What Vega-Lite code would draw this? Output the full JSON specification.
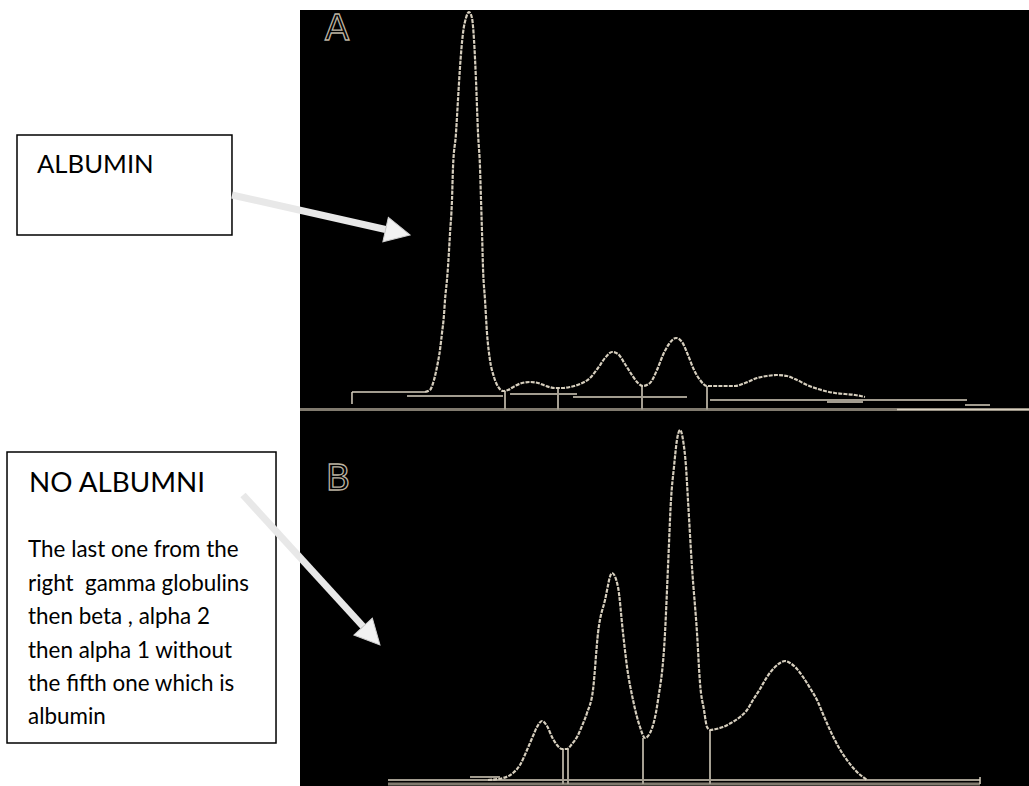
{
  "$schema": "https://vega.github.io/schema/vega-lite/v6.json",
  "width": 1029,
  "height": 786,
  "padding": 0,
  "autosize": "none",
  "background": "white",
  "config": {"view": {"stroke": null}},
  "datasets": {
    "panel": [{"x1": 0, "x2": 100, "y1": 100.53, "y2": -103.68}],
    "traceA": [
      {"x": 17.15, "y": 0}, {"x": 17.83, "y": 0.53}, {"x": 18.38, "y": 3.16}, {"x": 18.79, "y": 6.58},
      {"x": 19.2, "y": 11.05}, {"x": 19.48, "y": 15.53}, {"x": 19.75, "y": 20.26}, {"x": 19.89, "y": 24.21},
      {"x": 20.16, "y": 29.47}, {"x": 20.3, "y": 32.89}, {"x": 20.58, "y": 41.84}, {"x": 20.85, "y": 50.53},
      {"x": 20.99, "y": 59.21}, {"x": 21.4, "y": 68.16}, {"x": 21.67, "y": 76.84}, {"x": 21.95, "y": 85.53},
      {"x": 22.36, "y": 94.47}, {"x": 22.77, "y": 98.42}, {"x": 23.18, "y": 100}, {"x": 23.59, "y": 98.42},
      {"x": 23.87, "y": 92.63}, {"x": 24.14, "y": 82.11}, {"x": 24.42, "y": 68.16}, {"x": 24.69, "y": 59.21},
      {"x": 24.83, "y": 50.53}, {"x": 24.97, "y": 41.84}, {"x": 25.1, "y": 32.89}, {"x": 25.38, "y": 24.21},
      {"x": 25.65, "y": 15.53}, {"x": 26.06, "y": 8.42}, {"x": 26.61, "y": 3.95}, {"x": 27.3, "y": 1.05},
      {"x": 27.85, "y": 0.26}, {"x": 28.53, "y": 0.53}, {"x": 29.49, "y": 1.58}, {"x": 30.45, "y": 2.37},
      {"x": 31.55, "y": 2.63}, {"x": 32.65, "y": 2.37}, {"x": 33.74, "y": 1.58}, {"x": 34.98, "y": 1.05},
      {"x": 35.94, "y": 1.05}, {"x": 37.04, "y": 1.32}, {"x": 38.41, "y": 2.11}, {"x": 39.78, "y": 3.68},
      {"x": 40.88, "y": 6.32}, {"x": 41.84, "y": 8.95}, {"x": 42.8, "y": 10.53}, {"x": 43.62, "y": 10.0},
      {"x": 44.58, "y": 7.37}, {"x": 45.54, "y": 4.47}, {"x": 46.36, "y": 2.37}, {"x": 47.05, "y": 1.58},
      {"x": 48.01, "y": 2.37}, {"x": 48.97, "y": 5.79}, {"x": 49.79, "y": 9.74}, {"x": 50.62, "y": 12.63},
      {"x": 51.58, "y": 14.21}, {"x": 52.4, "y": 13.16}, {"x": 53.22, "y": 9.74}, {"x": 54.05, "y": 5.79},
      {"x": 54.87, "y": 3.16}, {"x": 55.83, "y": 1.58}, {"x": 56.93, "y": 1.58}, {"x": 58.3, "y": 1.58},
      {"x": 59.67, "y": 1.58}, {"x": 61.04, "y": 2.37}, {"x": 62.69, "y": 3.68}, {"x": 64.06, "y": 4.21},
      {"x": 65.43, "y": 4.47}, {"x": 66.8, "y": 4.21}, {"x": 68.18, "y": 3.16}, {"x": 69.55, "y": 1.84},
      {"x": 70.64, "y": 1.05}, {"x": 72.02, "y": 0.26}, {"x": 73.39, "y": -0.26}, {"x": 74.76, "y": -0.53},
      {"x": 76.13, "y": -0.79}, {"x": 77.5, "y": -1.32}
    ],
    "traceB": [
      {"x": 25.79, "y": 0}, {"x": 27.85, "y": 0.57}, {"x": 29.22, "y": 2.0}, {"x": 30.18, "y": 4.29},
      {"x": 31.14, "y": 8.57}, {"x": 31.96, "y": 12.57}, {"x": 32.51, "y": 15.14}, {"x": 33.2, "y": 16.86},
      {"x": 33.88, "y": 15.43}, {"x": 34.57, "y": 12.29}, {"x": 35.25, "y": 10.0}, {"x": 35.94, "y": 8.86},
      {"x": 36.63, "y": 8.86}, {"x": 37.31, "y": 10.29}, {"x": 38.0, "y": 12.29}, {"x": 38.68, "y": 15.43},
      {"x": 39.37, "y": 19.14}, {"x": 40.19, "y": 25.71}, {"x": 40.88, "y": 42.0}, {"x": 41.84, "y": 51.43},
      {"x": 42.8, "y": 59.14}, {"x": 43.62, "y": 55.14}, {"x": 44.31, "y": 42.0}, {"x": 44.86, "y": 32.29},
      {"x": 45.68, "y": 22.86}, {"x": 46.64, "y": 15.14}, {"x": 47.33, "y": 12.0}, {"x": 48.01, "y": 13.43},
      {"x": 49.11, "y": 22.86}, {"x": 50.07, "y": 42.0}, {"x": 50.48, "y": 60.86}, {"x": 50.89, "y": 80.0},
      {"x": 51.3, "y": 89.43}, {"x": 51.71, "y": 97.14}, {"x": 52.13, "y": 100}, {"x": 52.54, "y": 97.14},
      {"x": 52.95, "y": 89.43}, {"x": 53.22, "y": 80.0}, {"x": 53.77, "y": 60.86}, {"x": 54.46, "y": 42.0},
      {"x": 54.87, "y": 27.71}, {"x": 55.42, "y": 20.0}, {"x": 55.83, "y": 15.14}, {"x": 56.24, "y": 14.29},
      {"x": 57.06, "y": 14.57}, {"x": 58.02, "y": 15.14}, {"x": 59.12, "y": 16.29}, {"x": 60.36, "y": 18.0},
      {"x": 61.32, "y": 20.0}, {"x": 62.14, "y": 22.86}, {"x": 63.1, "y": 26.0}, {"x": 64.06, "y": 29.43},
      {"x": 65.02, "y": 32.0}, {"x": 65.84, "y": 33.43}, {"x": 66.53, "y": 34.0}, {"x": 67.22, "y": 33.43},
      {"x": 68.18, "y": 31.71}, {"x": 69.0, "y": 29.43}, {"x": 69.96, "y": 26.29}, {"x": 70.92, "y": 22.86},
      {"x": 71.74, "y": 18.86}, {"x": 72.7, "y": 14.29}, {"x": 73.8, "y": 9.71}, {"x": 75.03, "y": 5.71},
      {"x": 76.27, "y": 2.57}, {"x": 77.78, "y": 0}
    ],
    "segA": [
      {"x1": 0, "x2": 100, "y1": -4.61, "y2": -4.61, "kind": "base"},
      {"x1": 81.89, "x2": 100, "y1": -4.61, "y2": -4.61, "kind": "scan"},
      {"x1": 7.13, "x2": 17.15, "y1": 0, "y2": 0, "kind": "scan"},
      {"x1": 7.13, "x2": 7.13, "y1": 0, "y2": -3.16, "kind": "scan"},
      {"x1": 14.68, "x2": 27.85, "y1": -1.05, "y2": -1.05, "kind": "scan"},
      {"x1": 28.81, "x2": 38.0, "y1": -0.53, "y2": -0.53, "kind": "scan"},
      {"x1": 37.45, "x2": 53.09, "y1": -1.32, "y2": -1.32, "kind": "scan"},
      {"x1": 56.24, "x2": 91.5, "y1": -2.11, "y2": -2.11, "kind": "scan"},
      {"x1": 72.29, "x2": 77.23, "y1": -2.63, "y2": -2.63, "kind": "scan"},
      {"x1": 91.22, "x2": 94.65, "y1": -3.42, "y2": -3.42, "kind": "scan"},
      {"x1": 28.12, "x2": 28.12, "y1": 0.26, "y2": -4.61, "kind": "marker"},
      {"x1": 35.39, "x2": 35.39, "y1": 1.05, "y2": -4.61, "kind": "marker"},
      {"x1": 46.91, "x2": 46.91, "y1": 1.58, "y2": -4.61, "kind": "marker"},
      {"x1": 55.83, "x2": 55.83, "y1": 1.58, "y2": -4.61, "kind": "marker"}
    ],
    "segB": [
      {"x1": 12.07, "x2": 93.28, "y1": -1.14, "y2": -1.14, "kind": "base"},
      {"x1": 12.07, "x2": 93.28, "y1": 0, "y2": 0, "kind": "scan"},
      {"x1": 93.28, "x2": 93.28, "y1": 0.86, "y2": -1.14, "kind": "scan"},
      {"x1": 23.32, "x2": 27.43, "y1": 0.86, "y2": 0.86, "kind": "scan"},
      {"x1": 36.08, "x2": 36.08, "y1": 8.86, "y2": -1.14, "kind": "marker"},
      {"x1": 36.76, "x2": 36.76, "y1": 8.86, "y2": -1.14, "kind": "marker"},
      {"x1": 47.05, "x2": 47.05, "y1": 12.0, "y2": -1.14, "kind": "marker"},
      {"x1": 56.24, "x2": 56.24, "y1": 14.29, "y2": -1.14, "kind": "marker"}
    ],
    "boxA": [{"x1": -38.82, "x2": -9.33, "y1": 67.63, "y2": 41.32}],
    "boxB": [{"x1": -40.19, "x2": -3.29, "y1": 93.71, "y2": 10.57}],
    "textA": [{"x": -36.08, "y": 57.63, "text": "ALBUMIN"}],
    "titleB": [{"x": -37.17, "y": 82.29, "text": "NO ALBUMNI"}],
    "bodyB": [
      {"x": -37.3, "y": 63.71, "text": "The last one from the"},
      {"x": -37.3, "y": 54.14, "text": "right\u00a0 gamma globulins"},
      {"x": -37.3, "y": 44.57, "text": "then beta , alpha 2"},
      {"x": -37.3, "y": 35.0, "text": "then alpha 1 without"},
      {"x": -37.3, "y": 25.43, "text": "the fifth one which is"},
      {"x": -37.3, "y": 15.86, "text": "albumin"}
    ],
    "arrowA": [{"x1": -9.33, "y1": 51.84, "x2": 11.74, "y2": 42.76, "tx": 15.09, "ty": 41.32}],
    "arrowB": [{"x1": -7.82, "y1": 81.43, "x2": 8.66, "y2": 43.86, "tx": 10.97, "ty": 38.57}],
    "letterA": [{"x": 5.08, "y": 92.63, "text": "A"}],
    "letterB": [{"x": 5.21, "y": 82.86, "text": "B"}]
  },
  "layer": [
    {
      "layer": [
        {
          "data": {"name": "panel"},
          "mark": {"type": "rect", "fill": "#000000"},
          "encoding": {
            "x": {"field": "x1", "type": "quantitative", "axis": null, "scale": {"domain": [0, 100], "range": [300, 1029], "nice": false, "zero": false}},
            "x2": {"field": "x2"},
            "y": {"field": "y1", "type": "quantitative", "axis": null, "scale": {"domain": [0, 100], "range": [392, 12], "nice": false, "zero": false}},
            "y2": {"field": "y2"}
          }
        },
        {
          "data": {"name": "boxA"},
          "mark": {"type": "rect", "fill": "#ffffff", "stroke": "#000000", "strokeWidth": 1.5},
          "encoding": {
            "x": {"field": "x1", "type": "quantitative"},
            "x2": {"field": "x2"},
            "y": {"field": "y1", "type": "quantitative"},
            "y2": {"field": "y2"}
          }
        },
        {
          "data": {"name": "textA"},
          "mark": {"type": "text", "align": "left", "baseline": "alphabetic", "font": "Lato", "fontSize": 25.7, "color": "#000000"},
          "encoding": {
            "x": {"field": "x", "type": "quantitative"},
            "y": {"field": "y", "type": "quantitative"},
            "text": {"field": "text"}
          }
        },
        {
          "data": {"name": "arrowA"},
          "mark": {"type": "rule", "color": "#e8e8e8", "strokeWidth": 7, "strokeCap": "butt"},
          "encoding": {
            "x": {"field": "x1", "type": "quantitative"},
            "x2": {"field": "x2"},
            "y": {"field": "y1", "type": "quantitative"},
            "y2": {"field": "y2"}
          }
        },
        {
          "data": {"name": "arrowA"},
          "mark": {"type": "point", "shape": "M0,0L-1,-0.5L-1,0.5Z", "size": 2500, "filled": true, "fill": "#f2f2f2", "stroke": "#cfcfcf", "strokeWidth": 1, "opacity": 1, "angle": 12.66},
          "encoding": {
            "x": {"field": "tx", "type": "quantitative"},
            "y": {"field": "ty", "type": "quantitative"}
          }
        },
        {
          "data": {"name": "segA"},
          "transform": [{"filter": "datum.kind === 'base'"}],
          "mark": {"type": "rule", "color": "#807a6e", "strokeWidth": 3},
          "encoding": {
            "x": {"field": "x1", "type": "quantitative"},
            "x2": {"field": "x2"},
            "y": {"field": "y1", "type": "quantitative"},
            "y2": {"field": "y2"}
          }
        },
        {
          "data": {"name": "segA"},
          "transform": [{"filter": "datum.kind === 'scan'"}],
          "mark": {"type": "rule", "color": "#d8d0bf", "strokeWidth": 1.5},
          "encoding": {
            "x": {"field": "x1", "type": "quantitative"},
            "x2": {"field": "x2"},
            "y": {"field": "y1", "type": "quantitative"},
            "y2": {"field": "y2"}
          }
        },
        {
          "data": {"name": "segA"},
          "transform": [{"filter": "datum.kind === 'marker'"}],
          "mark": {"type": "rule", "color": "#a59f92", "strokeWidth": 2},
          "encoding": {
            "x": {"field": "x1", "type": "quantitative"},
            "x2": {"field": "x2"},
            "y": {"field": "y1", "type": "quantitative"},
            "y2": {"field": "y2"}
          }
        },
        {
          "data": {"name": "traceA"},
          "mark": {"type": "line", "color": "#d6cebd", "strokeWidth": 2.2, "interpolate": "monotone", "strokeDash": [4, 1.2]},
          "encoding": {
            "x": {"field": "x", "type": "quantitative"},
            "y": {"field": "y", "type": "quantitative"}
          }
        },
        {
          "data": {"name": "letterA"},
          "mark": {"type": "text", "align": "center", "baseline": "alphabetic", "font": "DejaVu Sans", "fontSize": 36, "fill": "#000000", "stroke": "#bcb3a2", "strokeWidth": 1.3},
          "encoding": {
            "x": {"field": "x", "type": "quantitative"},
            "y": {"field": "y", "type": "quantitative"},
            "text": {"field": "text"}
          }
        }
      ]
    },
    {
      "layer": [
        {
          "data": {"name": "boxB"},
          "mark": {"type": "rect", "fill": "#ffffff", "stroke": "#000000", "strokeWidth": 1.5},
          "encoding": {
            "x": {"field": "x1", "type": "quantitative", "axis": null, "scale": {"domain": [0, 100], "range": [300, 1029], "nice": false, "zero": false}},
            "x2": {"field": "x2"},
            "y": {"field": "y1", "type": "quantitative", "axis": null, "scale": {"domain": [0, 100], "range": [780, 430], "nice": false, "zero": false}},
            "y2": {"field": "y2"}
          }
        },
        {
          "data": {"name": "titleB"},
          "mark": {"type": "text", "align": "left", "baseline": "alphabetic", "font": "Lato", "fontSize": 27.8, "color": "#000000"},
          "encoding": {
            "x": {"field": "x", "type": "quantitative"},
            "y": {"field": "y", "type": "quantitative"},
            "text": {"field": "text"}
          }
        },
        {
          "data": {"name": "bodyB"},
          "mark": {"type": "text", "align": "left", "baseline": "alphabetic", "font": "Lato", "fontSize": 22.4, "color": "#000000"},
          "encoding": {
            "x": {"field": "x", "type": "quantitative"},
            "y": {"field": "y", "type": "quantitative"},
            "text": {"field": "text"}
          }
        },
        {
          "data": {"name": "arrowB"},
          "mark": {"type": "rule", "color": "#e8e8e8", "strokeWidth": 7, "strokeCap": "butt"},
          "encoding": {
            "x": {"field": "x1", "type": "quantitative"},
            "x2": {"field": "x2"},
            "y": {"field": "y1", "type": "quantitative"},
            "y2": {"field": "y2"}
          }
        },
        {
          "data": {"name": "arrowB"},
          "mark": {"type": "point", "shape": "M0,0L-1,-0.5L-1,0.5Z", "size": 2500, "filled": true, "fill": "#f2f2f2", "stroke": "#cfcfcf", "strokeWidth": 1, "opacity": 1, "angle": 47.6},
          "encoding": {
            "x": {"field": "tx", "type": "quantitative"},
            "y": {"field": "ty", "type": "quantitative"}
          }
        },
        {
          "data": {"name": "segB"},
          "transform": [{"filter": "datum.kind === 'base'"}],
          "mark": {"type": "rule", "color": "#807a6e", "strokeWidth": 3},
          "encoding": {
            "x": {"field": "x1", "type": "quantitative"},
            "x2": {"field": "x2"},
            "y": {"field": "y1", "type": "quantitative"},
            "y2": {"field": "y2"}
          }
        },
        {
          "data": {"name": "segB"},
          "transform": [{"filter": "datum.kind === 'scan'"}],
          "mark": {"type": "rule", "color": "#d8d0bf", "strokeWidth": 1.5},
          "encoding": {
            "x": {"field": "x1", "type": "quantitative"},
            "x2": {"field": "x2"},
            "y": {"field": "y1", "type": "quantitative"},
            "y2": {"field": "y2"}
          }
        },
        {
          "data": {"name": "segB"},
          "transform": [{"filter": "datum.kind === 'marker'"}],
          "mark": {"type": "rule", "color": "#a59f92", "strokeWidth": 2},
          "encoding": {
            "x": {"field": "x1", "type": "quantitative"},
            "x2": {"field": "x2"},
            "y": {"field": "y1", "type": "quantitative"},
            "y2": {"field": "y2"}
          }
        },
        {
          "data": {"name": "traceB"},
          "mark": {"type": "line", "color": "#d6cebd", "strokeWidth": 2.2, "interpolate": "monotone", "strokeDash": [4, 1.2]},
          "encoding": {
            "x": {"field": "x", "type": "quantitative"},
            "y": {"field": "y", "type": "quantitative"}
          }
        },
        {
          "data": {"name": "letterB"},
          "mark": {"type": "text", "align": "center", "baseline": "alphabetic", "font": "DejaVu Sans", "fontSize": 36, "fill": "#000000", "stroke": "#bcb3a2", "strokeWidth": 1.3},
          "encoding": {
            "x": {"field": "x", "type": "quantitative"},
            "y": {"field": "y", "type": "quantitative"},
            "text": {"field": "text"}
          }
        }
      ]
    }
  ],
  "resolve": {"scale": {"y": "independent"}}
}
